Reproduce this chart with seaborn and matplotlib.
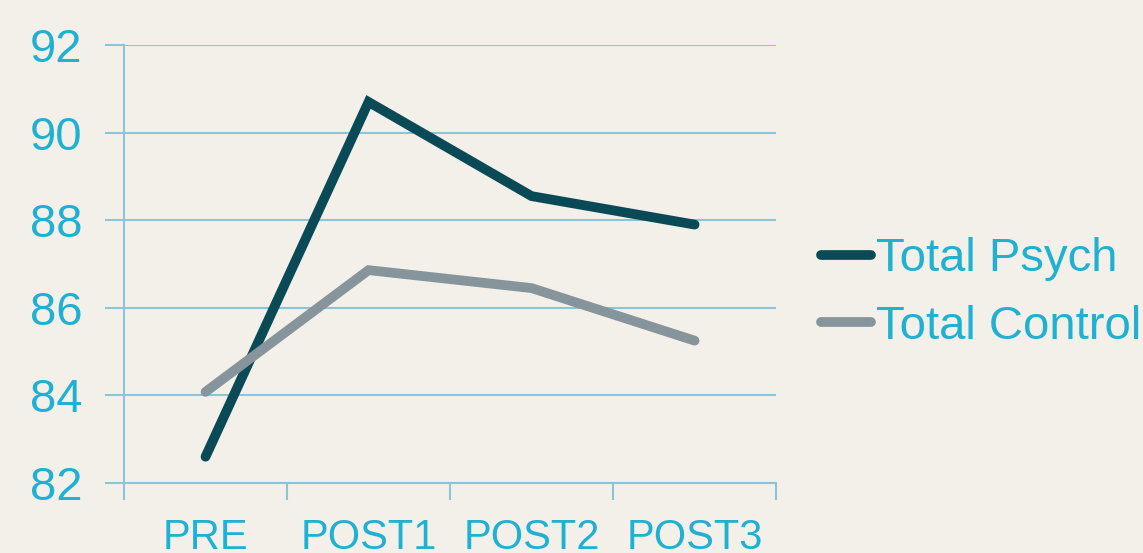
import numpy as np
import pandas as pd
import matplotlib.pyplot as plt
import seaborn as sns

phases = ["PRE", "POST1", "POST2", "POST3"]
psych = [82.6, 90.7, 88.55, 87.9]
control = [84.08, 86.86, 86.45, 85.25]
series_names = ["Total Psych", "Total Control"]

df = pd.DataFrame({
    "phase": phases * 2,
    "score": psych + control,
    "group": [series_names[0]] * 4 + [series_names[1]] * 4,
})

bg = "#f3f0e9"
txt = "#1fb0d2"
grid = "#8cc5da"

sns.set_style("white")
plt.rcParams["font.family"] = ["Liberation Sans", "DejaVu Sans"]

fig = plt.figure(figsize=(11.43, 5.53), dpi=100, facecolor=bg)
ax = fig.add_axes([0.1085, 0.1266, 0.5705, 0.792])
ax.set_facecolor(bg)

sns.lineplot(data=df, x="phase", y="score", hue="group", sort=False,
             palette={"Total Psych": "#0a4a57", "Total Control": "#86949b"},
             linewidth=7, ax=ax)
for ln in ax.get_lines():
    ln.set_solid_capstyle("round")
    ln.set_solid_joinstyle("miter")

ax.set_xlim(-0.5, 3.5)
ax.set_ylim(82, 92)
ax.set_yticks([82, 84, 86, 88, 90, 92])
ax.yaxis.grid(True, color=grid, linewidth=1.5)
ax.set_axisbelow(True)
for s in ["top", "right"]:
    ax.spines[s].set_visible(False)
for s in ["left", "bottom"]:
    ax.spines[s].set_color(grid)
    ax.spines[s].set_linewidth(1.5)

# category boundaries as ticks
ax.set_xticks([-0.5, 0.5, 1.5, 2.5, 3.5])
ax.set_xticklabels([])
ax.set_xticks([0, 1, 2, 3], minor=True)
ax.set_xticklabels(phases, minor=True)
ax.tick_params(axis="x", which="major", length=12, width=1.5, color=grid, direction="out", bottom=True)
ax.tick_params(axis="x", which="minor", length=0, labelsize=30, labelcolor=txt, pad=25)
ax.tick_params(axis="y", length=14, width=1.5, color=grid, direction="out", left=True,
               labelsize=34, labelcolor=txt, pad=16)
ax.set_xlabel("")
ax.set_ylabel("")

leg = ax.legend(loc="center left", bbox_to_anchor=(0.702, 0.47), bbox_transform=fig.transFigure,
                frameon=False, fontsize=34, handlelength=1.05, handletextpad=0.1,
                labelspacing=0.5, borderaxespad=0)
for t in leg.get_texts():
    t.set_color(txt)
for h in leg.get_lines():
    h.set_linewidth(7)
    h.set_solid_capstyle("round")

fig.savefig("out.png", dpi=100, facecolor=bg)
